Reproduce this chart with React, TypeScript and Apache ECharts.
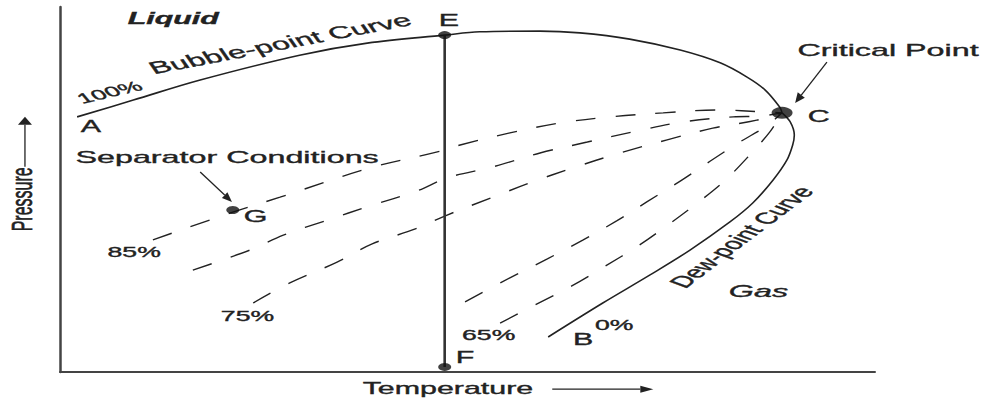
import React, { useEffect, useRef } from "react";
import * as echarts from "echarts";

// ---- Data (arbitrary units: temperature 0-100, pressure 0-100) ----
const bubbleTemp = [2.1, 9.0, 17.2, 29.4, 37.7, 47.2, 51.5, 58.9, 63.8, 69.9, 76.1, 81.0, 84.3, 86.5, 88.3, 88.6];
const bubblePres = [69.9, 74.5, 80.0, 86.8, 90.1, 92.3, 93.2, 93.4, 92.9, 91.2, 88.2, 84.7, 80.8, 77.3, 72.6, 71.0];

const dewTemp = [88.6, 89.6, 90.1, 89.9, 89.2, 87.5, 85.0, 82.2, 77.3, 72.4, 66.6, 59.9];
const dewPres = [71.0, 68.5, 64.9, 62.2, 58.1, 52.6, 46.3, 41.1, 33.4, 26.6, 18.9, 9.6];

const isothermTemp = [47.2, 47.2];
const isothermPres = [92.3, 1.4];

const q85Temp = [11.4, 21.2, 27.0, 38.0, 46.3, 49.1, 55.2, 61.3, 67.5, 74.0, 80.6, 86.7, 88.6];
const q85Pres = [36.2, 43.8, 47.9, 55.9, 60.3, 62.2, 65.5, 68.2, 69.9, 71.0, 71.8, 71.2, 71.0];

const q80Temp = [16.3, 23.3, 27.4, 32.8, 38.0, 43.8, 47.5, 53.1, 58.9, 64.7, 70.3, 76.4, 82.6, 85.9, 88.6];
const q80Pres = [27.9, 33.4, 37.5, 41.6, 45.5, 49.6, 53.2, 56.2, 60.0, 63.0, 65.8, 68.5, 69.9, 70.1, 71.0];

const q75Temp = [23.7, 28.2, 34.0, 38.3, 43.6, 47.5, 53.1, 58.0, 62.9, 68.7, 74.5, 80.1, 85.5, 88.6];
const q75Pres = [18.9, 24.4, 30.1, 35.1, 39.2, 43.0, 47.9, 52.1, 55.9, 60.0, 63.6, 66.8, 69.0, 71.0];

const q70Temp = [49.7, 55.2, 59.8, 64.2, 68.3, 72.0, 76.1, 79.8, 83.4, 86.7, 88.6];
const q70Pres = [19.2, 25.8, 31.0, 36.2, 41.4, 46.6, 52.3, 57.8, 63.0, 67.4, 71.0];

const q65Temp = [54.0, 58.3, 62.8, 66.9, 70.9, 74.6, 78.2, 81.5, 84.4, 87.1, 88.6];
const q65Pres = [13.4, 18.4, 23.6, 29.0, 34.5, 40.3, 46.3, 52.3, 58.9, 65.8, 71.0];

const pointNames = ["E", "F", "G", "C"];
const pointTemp = [47.2, 47.2, 21.2, 88.6];
const pointPres = [92.3, 1.4, 44.4, 71.0];

// ---- Annotation layout (in data units) ----
const STRETCH = 1.9;
const INK = "#222";
const FONT = "'Liberation Sans', Arial, sans-serif";

type Lbl = { text: string; t: number; p: number; size: number; rot?: number; style?: string; weight?: string };
const labels: Lbl[] = [
  { text: "Liquid", t: 13.9, p: 97.0, size: 16, style: "italic", weight: "bold" },
  { text: "Bubble-point Curve", t: 27.0, p: 89.9, size: 17, rot: 20 },
  { text: "100%", t: 6.1, p: 76.6, size: 14, rot: 24 },
  { text: "A", t: 3.8, p: 67.4, size: 16 },
  { text: "E", t: 47.7, p: 96.2, size: 16 },
  { text: "Separator Conditions", t: 20.5, p: 58.9, size: 17 },
  { text: "G", t: 24.0, p: 42.7, size: 16 },
  { text: "85%", t: 9.1, p: 32.7, size: 14 },
  { text: "75%", t: 23.0, p: 15.3, size: 14 },
  { text: "65%", t: 52.6, p: 9.9, size: 14 },
  { text: "F", t: 49.7, p: 4.0, size: 16 },
  { text: "B", t: 64.2, p: 8.8, size: 16 },
  { text: "0%", t: 68.0, p: 12.9, size: 14 },
  { text: "Gas", t: 85.7, p: 22.1, size: 17, style: "italic" },
  { text: "Dew-point Curve", t: 83.6, p: 37.0, size: 16, rot: 55 },
  { text: "C", t: 93.1, p: 70.0, size: 16 },
  { text: "Critical Point", t: 101.6, p: 88.2, size: 17 },
  { text: "Temperature", t: 47.6, p: -4.4, size: 16 },
  { text: "Pressure", t: -4.7, p: 47.3, size: 16, rot: 90 },
];

type Arr = { t1: number; p1: number; t2: number; p2: number; len: number; half: number };
const arrows: Arr[] = [
  { t1: -4.3, p1: 56.2, t2: -4.3, p2: 69.9, len: 8, half: 7 },
  { t1: 60.4, p1: -4.7, t2: 72.8, p2: -4.7, len: 13, half: 3.5 },
  { t1: 17.2, p1: 54.8, t2: 21.1, p2: 46.6, len: 10, half: 4 },
  { t1: 94.1, p1: 84.9, t2: 90.2, p2: 73.7, len: 10, half: 4.5 },
];

const zip = (a: number[], b: number[]) => a.map((v, i) => [v, b[i]]);

const dashed = (name: string, t: number[], p: number[]) => ({
  name,
  type: "line",
  data: zip(t, p),
  smooth: 0.35,
  showSymbol: false,
  silent: true,
  lineStyle: { color: INK, width: 1.4, type: [20, 20] },
  z: 2,
});

export default function App() {
  const ref = useRef<HTMLDivElement>(null);
  useEffect(() => {
    if (!ref.current) return;
    const chart = echarts.init(ref.current, undefined, { renderer: "svg" });
    const axisCommon = {
      type: "value",
      min: 0,
      max: 100,
      axisTick: { show: false },
      axisLabel: { show: false },
      splitLine: { show: false },
    };
    chart.setOption({
      animation: false,
      backgroundColor: "#fff",
      grid: { left: 60, right: 112, top: 7, bottom: 29 },
      xAxis: { ...axisCommon, axisLine: { show: true, onZero: false, lineStyle: { color: "#444", width: 2 } } },
      yAxis: { ...axisCommon, axisLine: { show: true, onZero: false, lineStyle: { color: "#444", width: 2.5 } } },
      series: [
        {
          name: "Bubble-point",
          type: "line",
          data: zip(bubbleTemp, bubblePres),
          smooth: 0.35,
          showSymbol: false,
          lineStyle: { color: INK, width: 1.6 },
          z: 3,
        },
        {
          name: "Dew-point",
          type: "line",
          data: zip(dewTemp, dewPres),
          smooth: 0.35,
          showSymbol: false,
          lineStyle: { color: INK, width: 1.6 },
          z: 3,
        },
        {
          name: "EF",
          type: "line",
          data: zip(isothermTemp, isothermPres),
          showSymbol: false,
          lineStyle: { color: "#333", width: 2.6 },
          z: 3,
        },
        dashed("85%", q85Temp, q85Pres),
        dashed("80%", q80Temp, q80Pres),
        dashed("75%", q75Temp, q75Pres),
        dashed("70%", q70Temp, q70Pres),
        dashed("65%", q65Temp, q65Pres),
        {
          name: "points",
          type: "scatter",
          z: 5,
          itemStyle: { color: "#111" },
          data: pointNames.map((n, i) => ({
            name: n,
            value: [pointTemp[i], pointPres[i]],
            symbolSize: n === "C" ? [21, 12] : [13, 8],
          })),
        },
      ],
    });

    const toPx = (t: number, p: number) => chart.convertToPixel({ gridIndex: 0 }, [t, p]) as number[];
    const graphic: any[] = [];
    labels.forEach((l) => {
      const [x, y] = toPx(l.t, l.p);
      graphic.push({
        type: "group",
        x,
        y,
        scaleX: STRETCH,
        children: [
          {
            type: "text",
            rotation: ((l.rot || 0) * Math.PI) / 180,
            style: {
              text: l.text,
              fill: INK,
              stroke: INK,
              lineWidth: 0.35,
              font: `${l.style || "normal"} ${l.weight || "normal"} ${l.size}px ${FONT}`,
              align: "center",
              verticalAlign: "middle",
              textAlign: "center",
              textVerticalAlign: "middle",
            },
          },
        ],
      });
    });
    arrows.forEach((a) => {
      const [x1, y1] = toPx(a.t1, a.p1);
      const [x2, y2] = toPx(a.t2, a.p2);
      const dx = x2 - x1;
      const dy = y2 - y1;
      const d = Math.hypot(dx, dy);
      const ux = dx / d;
      const uy = dy / d;
      const bx = x2 - ux * a.len;
      const by = y2 - uy * a.len;
      graphic.push({
        type: "line",
        shape: { x1, y1, x2: bx, y2: by },
        style: { stroke: INK, lineWidth: 1.3 },
      });
      graphic.push({
        type: "polygon",
        shape: {
          points: [
            [x2, y2],
            [bx - uy * a.half, by + ux * a.half],
            [bx + uy * a.half, by - ux * a.half],
          ],
        },
        style: { fill: INK },
      });
    });
    chart.setOption({ graphic });
    return () => chart.dispose();
  }, []);
  return <div ref={ref} style={{ position: "fixed", left: 0, top: 0, width: 987, height: 401 }} />;
}
